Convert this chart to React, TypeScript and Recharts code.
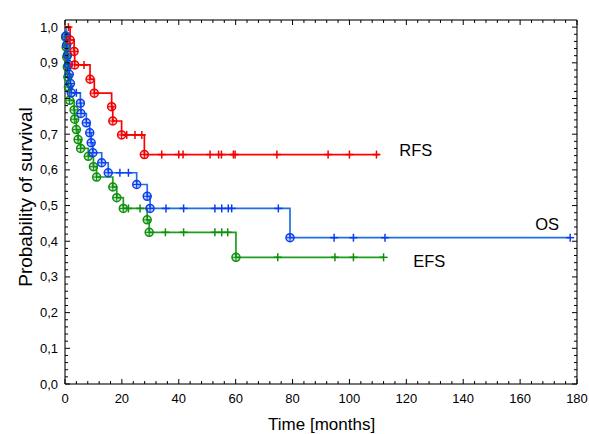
import { ComposedChart, Line, XAxis, YAxis, CartesianGrid, ReferenceArea, ReferenceDot } from "recharts"

const W = 589
const H = 434
const MARGIN = { top: 20, right: 12, left: 0, bottom: 0 }
const Y_AXIS_W = 65
const X_AXIS_H = 50
const PL = MARGIN.left + Y_AXIS_W
const PR = W - MARGIN.right
const PT = MARGIN.top
const PB = H - MARGIN.bottom - X_AXIS_H
const FONT = "'Liberation Sans', Arial, sans-serif"

const X_MAJOR = [0, 20, 40, 60, 80, 100, 120, 140, 160, 180]
const Y_MAJOR = [0, 0.1, 0.2, 0.3, 0.4, 0.5, 0.6, 0.7, 0.8, 0.9, 1.0]
const X_TICKS = Array.from({ length: 46 }, (_, i) => i * 4)
const Y_TICKS = Array.from({ length: 51 }, (_, i) => (i * 2) / 100)

// [time, survival after event]
const RFS_EVENTS: [number, number][] = [
  [1.8, 0.964], [3.2, 0.932], [3.4, 0.894], [8.8, 0.854], [10.3, 0.815],
  [16.4, 0.777], [16.8, 0.737], [19.9, 0.698], [27.9, 0.643],
]
const RFS_CENSORED = [1.2, 6.7, 21.7, 24.6, 27.0, 34, 40, 41.5, 51, 54, 55, 59.2, 59.8, 74.5, 92.5, 100, 109.5]
const RFS_END = 110.5

const OS_EVENTS: [number, number][] = [
  [0.3, 0.975], [0.6, 0.95], [0.9, 0.922], [1.2, 0.895], [1.5, 0.868], [1.9, 0.842],
  [2.2, 0.816], [5.4, 0.787], [5.6, 0.758], [7.5, 0.732], [8.7, 0.704], [9.2, 0.676],
  [9.8, 0.648], [12.9, 0.62], [15.2, 0.592], [25.2, 0.559], [28.9, 0.526], [29.9, 0.492],
  [79.1, 0.41],
]
const OS_CENSORED = [4.0, 19.3, 22.3, 35.5, 41.7, 52.7, 55.1, 57.4, 58.6, 75, 94.6, 101.4, 112.5, 177.6]
const OS_END = 177.6

const EFS_EVENTS: [number, number][] = [
  [0.2, 0.972], [0.4, 0.944], [0.6, 0.916], [0.8, 0.888], [1.0, 0.86], [1.2, 0.832],
  [1.6, 0.795], [3.2, 0.768], [3.4, 0.742], [4.0, 0.713], [4.6, 0.685], [5.5, 0.66],
  [8.2, 0.638], [10.0, 0.609], [11.1, 0.58], [16.8, 0.552], [18.2, 0.522], [20.5, 0.492],
  [28.9, 0.46], [29.6, 0.425], [60.1, 0.355],
]
const EFS_CENSORED = [22.3, 26.4, 35.3, 41.7, 52.7, 55.1, 57.2, 74.8, 94.9, 101.4, 112]
const EFS_END = 112

type Pt = { t: number; s: number; kind: string }

function buildSeries(events: [number, number][], censored: number[], end: number): Pt[] {
  const all = [
    ...events.map(([t, s]) => ({ t, s, kind: "event" })),
    ...censored.map((t) => ({ t, s: 1, kind: "censor" })),
  ].sort((a, b) => a.t - b.t)
  const pts: Pt[] = [{ t: 0, s: 1, kind: "start" }]
  let cur = 1
  for (const p of all) {
    if (p.kind === "event") cur = p.s
    pts.push({ t: p.t, s: cur, kind: p.kind })
  }
  if (pts[pts.length - 1].t < end) pts.push({ t: end, s: cur, kind: "end" })
  return pts
}

const rfs = buildSeries(RFS_EVENTS, RFS_CENSORED, RFS_END)
const os = buildSeries(OS_EVENTS, OS_CENSORED, OS_END)
const efs = buildSeries(EFS_EVENTS, EFS_CENSORED, EFS_END)

const makeDot = (color: string) => (props: any) => {
  const { cx, cy, payload, index } = props
  if (payload.kind === "event") {
    return (
      <g key={`d${index}`}>
        <circle cx={cx} cy={cy} r={4} fill={color} fillOpacity={0.25} stroke={color} strokeWidth={1.5} />
        <line x1={cx - 4} x2={cx + 4} y1={cy} y2={cy} stroke={color} strokeWidth={1} />
        <line x1={cx} x2={cx} y1={cy - 4} y2={cy + 4} stroke={color} strokeWidth={1} />
      </g>
    )
  }
  if (payload.kind === "censor") {
    return (
      <g key={`d${index}`}>
        <line x1={cx - 4} x2={cx + 4} y1={cy} y2={cy} stroke={color} strokeWidth={1.5} />
        <line x1={cx} x2={cx} y1={cy - 4} y2={cy + 4} stroke={color} strokeWidth={1.5} />
      </g>
    )
  }
  return <g key={`d${index}`} />
}

const XTick = (props: any) => {
  const { x, payload } = props
  const v = payload.value
  const major = v % 20 === 0
  const len = major ? 5 : 3
  return (
    <g>
      <line x1={x} x2={x} y1={PB} y2={PB - len} stroke="#000" />
      <line x1={x} x2={x} y1={PT} y2={PT + len} stroke="#000" />
      {major && (
        <text x={x} y={PB + 18.5} textAnchor="middle" fontSize={13} fill="#000" fontFamily={FONT}>
          {v}
        </text>
      )}
    </g>
  )
}

const YTick = (props: any) => {
  const { y, payload } = props
  const v = payload.value
  const major = Math.round(v * 100) % 10 === 0
  const len = major ? 5 : 3
  return (
    <g>
      <line x1={PL} x2={PL + len} y1={y} y2={y} stroke="#000" />
      <line x1={PR} x2={PR - len} y1={y} y2={y} stroke="#000" />
      {major && (
        <text x={PL - 7} y={y + 4.5} textAnchor="end" fontSize={13} fill="#000" fontFamily={FONT}>
          {v.toFixed(1).replace(".", ",")}
        </text>
      )}
    </g>
  )
}

const labelStyle = { fill: "#000", fontSize: 16.5, fontFamily: FONT }

export default function App() {
  return (
    <div style={{ position: "absolute", left: 0, top: 0, width: W, height: H, background: "#fff" }}>
      <ComposedChart width={W} height={H} margin={MARGIN}>
        <XAxis xAxisId="g" type="number" dataKey="t" domain={[0, 180]} ticks={X_MAJOR} hide />
        <YAxis yAxisId="g" type="number" domain={[0, 1.02]} ticks={Y_MAJOR} hide />
        <CartesianGrid xAxisId="g" yAxisId="g" stroke="#d9d9d9" strokeWidth={1} />
        <XAxis
          type="number"
          dataKey="t"
          domain={[0, 180]}
          ticks={X_TICKS}
          interval={0}
          height={X_AXIS_H}
          axisLine={false}
          tickLine={false}
          tick={<XTick />}
        />
        <YAxis
          type="number"
          domain={[0, 1.02]}
          ticks={Y_TICKS}
          interval={0}
          width={Y_AXIS_W}
          axisLine={false}
          tickLine={false}
          tick={<YTick />}
        />
        <ReferenceArea x1={0} x2={180} y1={0} y2={1.02} fill="none" stroke="#000" strokeWidth={1} fillOpacity={0} />
        <Line data={efs} dataKey="s" type="stepAfter" stroke="#1e9e1e" strokeWidth={1.7} dot={makeDot("#0e8f0e")} isAnimationActive={false} />
        <Line data={os} dataKey="s" type="stepAfter" stroke="#1f6fe5" strokeWidth={1.7} dot={makeDot("#0b3df0")} isAnimationActive={false} />
        <Line data={rfs} dataKey="s" type="stepAfter" stroke="#ff0000" strokeWidth={1.7} dot={makeDot("#f00000")} isAnimationActive={false} />
        <ReferenceDot x={117.5} y={0.655} r={0} fill="none" stroke="none" label={{ value: "RFS", position: "right", offset: 0, ...labelStyle }} />
        <ReferenceDot x={165.3} y={0.447} r={0} fill="none" stroke="none" label={{ value: "OS", position: "right", offset: 0, ...labelStyle }} />
        <ReferenceDot x={122.4} y={0.343} r={0} fill="none" stroke="none" label={{ value: "EFS", position: "right", offset: 0, ...labelStyle }} />
      </ComposedChart>
      <svg width={W} height={H} style={{ position: "absolute", left: 0, top: 0, pointerEvents: "none" }}>
        <text x={321.6} y={430} textAnchor="middle" fontSize={17} fontFamily={FONT} fill="#000">
          Time [months]
        </text>
        <text
          x={0}
          y={0}
          transform="translate(32,197) rotate(-90)"
          textAnchor="middle"
          fontSize={19}
          fontFamily={FONT}
          fill="#000"
        >
          Probability of survival
        </text>
      </svg>
    </div>
  )
}
